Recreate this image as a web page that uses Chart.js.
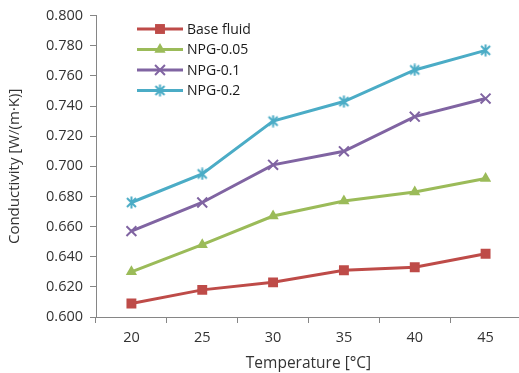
<!DOCTYPE html>
<html><head><meta charset="utf-8">
<script src="https://cdn.jsdelivr.net/npm/chart.js@4/dist/chart.umd.min.js"></script>
<style>html,body{margin:0;padding:0;background:#fff;overflow:hidden;}#wrap{width:519px;height:373px;position:relative;overflow:hidden;}</style>
</head><body><div id="wrap"><canvas id="c" width="530" height="373"></canvas></div>
<script>
const categories = ['20','25','30','35','40','45'];
const baseFluid = [0.609, 0.618, 0.623, 0.631, 0.633, 0.642];
const npg005 = [0.630, 0.648, 0.667, 0.677, 0.683, 0.692];
const npg01 = [0.657, 0.676, 0.701, 0.710, 0.733, 0.745];
const npg02 = [0.676, 0.695, 0.730, 0.743, 0.764, 0.777];
const seriesNames = ['Base fluid', 'NPG-0.05', 'NPG-0.1', 'NPG-0.2'];
const xTitle = 'Temperature [°C]';
const yTitle = 'Conductivity [W/(m·K)]';

const colors = ['#BE4B48', '#9BBB59', '#8064A2', '#4BACC6'];

function starCanvas(color){
  const c = document.createElement('canvas');
  c.width = 13; c.height = 13;
  const g = c.getContext('2d');
  g.strokeStyle = color; g.lineWidth = 2;
  g.beginPath();
  g.moveTo(2,2); g.lineTo(11,11);
  g.moveTo(11,2); g.lineTo(2,11);
  g.moveTo(6.5,0.5); g.lineTo(6.5,12.5);
  g.stroke();
  return c;
}
const star = starCanvas(colors[3]);

const styles = [
  {pointStyle:'rect', radius:7, bw:0},
  {pointStyle:'triangle', radius:6.5, bw:0},
  {pointStyle:'crossRot', radius:7, bw:2},
  {pointStyle:star, radius:6, bw:0}
];
const values = [baseFluid, npg005, npg01, npg02];

const datasets = values.map((v,i)=>({
  label: seriesNames[i],
  data: v,
  borderColor: colors[i],
  backgroundColor: colors[i],
  borderWidth: 3,
  pointStyle: styles[i].pointStyle,
  pointRadius: styles[i].radius,
  pointHoverRadius: styles[i].radius,
  pointBorderWidth: styles[i].bw,
  pointBorderColor: colors[i],
  pointBackgroundColor: colors[i],
  tension: 0
}));

const FONT = 'Open Sans';

const chart = new Chart(document.getElementById('c'), {
  type: 'line',
  data: { labels: categories, datasets },
  options: {
    responsive: false,
    animation: false,
    events: [],
    layout: { padding: { top: 15, right: 0, left: 0, bottom: 0 } },
    plugins: { legend: { display: false }, tooltip: { enabled: false } },
    scales: {
      x: {
        offset: true,
        grid: { display: true, offset: true, drawOnChartArea: false, drawTicks: true, tickLength: 6, color: '#868686', tickWidth: 1 },
        border: { display: true, color: '#868686', width: 1 },
        ticks: { color: '#333333', font: { family: FONT, size: 14.5 }, padding: 6, maxRotation: 0 },
        title: { display: true, text: xTitle, color: '#333333', font: { family: FONT, size: 15.5 }, padding: { top: 2, bottom: 0 } },
        afterFit(s){ s.height = 56; }
      },
      y: {
        min: 0.6, max: 0.8,
        grid: { display: true, drawOnChartArea: false, drawTicks: true, tickLength: 6, color: '#868686' },
        border: { display: true, color: '#868686', width: 1 },
        ticks: { stepSize: 0.02, color: '#333333', font: { family: FONT, size: 14.5 }, padding: 7,
          callback: v => v.toFixed(3) },
        title: { display: true, text: yTitle, color: '#333333', font: { family: FONT, size: 15 }, padding: { top: 6, bottom: 4 } },
        afterFit(s){ s.width = 96; }
      }
    }
  },
  plugins: [{
    id:'legendDraw',
    afterDraw(chart){
      const ctx = chart.ctx;
      ctx.save();
      const x0 = 137, x1 = 183, ys = [29, 49.5, 70, 90.5];
      datasets.forEach((d,i)=>{
        const y = ys[i];
        ctx.strokeStyle = d.borderColor; ctx.fillStyle = d.backgroundColor; ctx.lineWidth = 3;
        ctx.beginPath(); ctx.moveTo(x0,y); ctx.lineTo(x1,y); ctx.stroke();
        ctx.lineWidth = d.pointBorderWidth || 1;
        Chart.helpers.drawPoint(ctx, {pointStyle: d.pointStyle, radius: d.pointRadius, borderWidth: d.pointBorderWidth, rotation:0}, (x0+x1)/2, y);
        ctx.fillStyle = '#1a1a1a';
        ctx.font = '14px "' + FONT + '"';
        ctx.textBaseline = 'middle';
        ctx.textAlign = 'left';
        ctx.fillText(d.label, x1+4, y+1);
      });
      ctx.restore();
    }
  }]
});
</script></body></html>
